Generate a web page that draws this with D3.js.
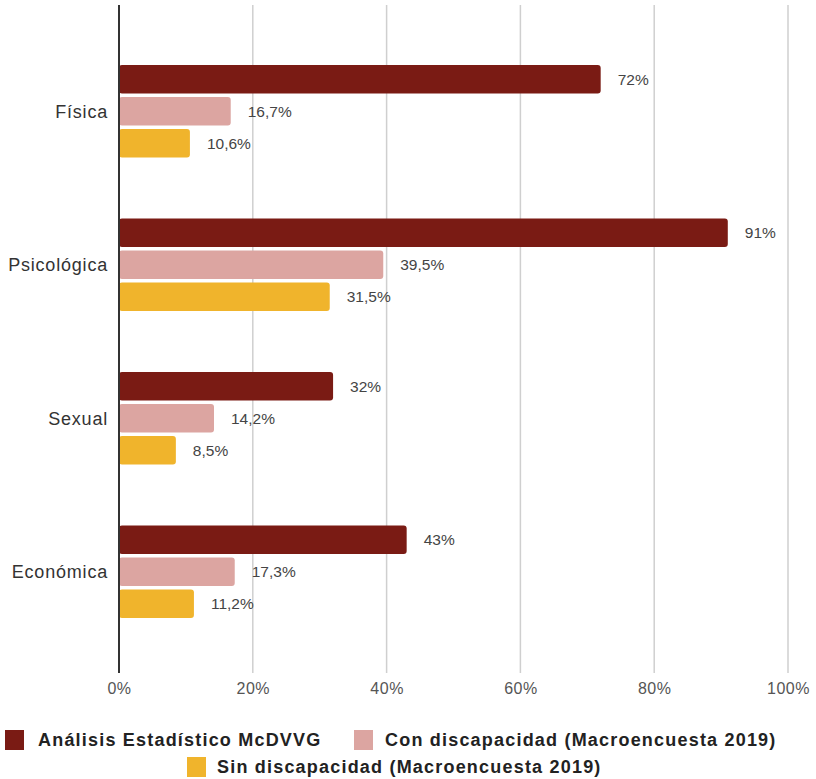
<!DOCTYPE html>
<html>
<head>
<meta charset="utf-8">
<script src="https://cdn.jsdelivr.net/npm/d3@7"></script>
<style>
  html, body { margin: 0; padding: 0; background: #fff; }
  svg { display: block; font-family: "Liberation Sans", Arial, sans-serif; }
</style>
</head>
<body>
<svg id="chart" width="816" height="779"></svg>
<script>
const categories = ["Física", "Psicológica", "Sexual", "Económica"];
const seriesNames = ["Análisis Estadístico McDVVG", "Con discapacidad (Macroencuesta 2019)", "Sin discapacidad (Macroencuesta 2019)"];
const mcdvvg = [72, 91, 32, 43];
const conDisc = [16.7, 39.5, 14.2, 17.3];
const sinDisc = [10.6, 31.5, 8.5, 11.2];
const valueLabels = [
  ["72%", "91%", "32%", "43%"],
  ["16,7%", "39,5%", "14,2%", "17,3%"],
  ["10,6%", "31,5%", "8,5%", "11,2%"]
];
const tickValues = [0, 20, 40, 60, 80, 100];
const tickLabels = ["0%", "20%", "40%", "60%", "80%", "100%"];
const colors = ["#7a1b14", "#dca5a1", "#f0b42c"];

const series = [mcdvvg, conDisc, sinDisc];
const svg = d3.select("#chart");

const x = d3.scaleLinear().domain([0, 100]).range([119, 788]);
const y = d3.scaleBand().domain(categories).range([34.5, 648.5]).padding(0);
const inner = d3.scaleBand().domain(d3.range(3)).range([0, y.bandwidth()])
  .paddingInner(0.11).paddingOuter(0.95);

const plotTop = 5, plotBottom = 673;

// gridlines
svg.append("g").selectAll("line").data(tickValues.filter(d => d > 0)).join("line")
  .attr("x1", d => x(d)).attr("x2", d => x(d))
  .attr("y1", plotTop).attr("y2", plotBottom)
  .attr("stroke", "#cfcfcf").attr("stroke-width", 1.5);

// bars
const groups = svg.append("g").selectAll("g").data(categories).join("g")
  .attr("transform", c => `translate(0,${y(c)})`);

groups.each(function(c, ci) {
  const g = d3.select(this);
  series.forEach((s, si) => {
    g.append("rect")
      .attr("x", x(0))
      .attr("y", inner(si))
      .attr("width", x(s[ci]) - x(0))
      .attr("height", inner.bandwidth())
      .attr("rx", 3)
      .attr("fill", colors[si]);
    g.append("text")
      .attr("x", x(s[ci]) + 17)
      .attr("y", inner(si) + inner.bandwidth() / 2)
      .attr("dy", "0.35em")
      .attr("font-size", 15.5)
      .attr("fill", "#444")
      .text(valueLabels[si][ci]);
  });
  g.append("text")
    .attr("x", 108)
    .attr("y", inner(1) + inner.bandwidth() / 2)
    .attr("dy", "0.35em")
    .attr("text-anchor", "end")
    .attr("font-size", 18)
    .attr("letter-spacing", 0.8)
    .attr("fill", "#333")
    .text(c);
});

// axis line at zero
svg.append("line")
  .attr("x1", x(0)).attr("x2", x(0))
  .attr("y1", plotTop).attr("y2", plotBottom)
  .attr("stroke", "#333").attr("stroke-width", 2);

// x tick labels
const xAxis = d3.axisBottom(x).tickValues(tickValues)
  .tickFormat((d, i) => tickLabels[i]).tickSize(0).tickPadding(0);
const ax = svg.append("g").attr("transform", `translate(0,${683})`).call(xAxis);
ax.select(".domain").remove();
ax.selectAll("text").attr("font-size", 16).attr("fill", "#555")
  .attr("letter-spacing", 0.5)
  .attr("font-family", "Liberation Sans, Arial, sans-serif");

// legend
const legendItems = [
  { i: 0, sx: 5, tx: 38, cy: 740 },
  { i: 1, sx: 354, tx: 385, cy: 740 },
  { i: 2, sx: 187, tx: 217, cy: 767 }
];
const lg = svg.append("g");
legendItems.forEach(it => {
  lg.append("rect").attr("x", it.sx).attr("y", it.cy - 10).attr("width", 19).attr("height", 20)
    .attr("fill", colors[it.i]);
  lg.append("text").attr("x", it.tx).attr("y", it.cy).attr("dy", "0.35em")
    .attr("font-size", 18).attr("font-weight", "bold").attr("fill", "#222")
    .attr("letter-spacing", 1.2)
    .text(seriesNames[it.i]);
});
</script>
</body>
</html>
